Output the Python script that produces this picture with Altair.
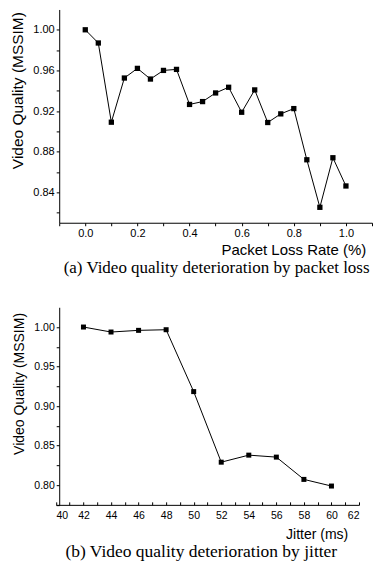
import altair as alt
import pandas as pd

# ---- data ----
loss_rate = [0.00, 0.05, 0.10, 0.15, 0.20, 0.25, 0.30, 0.35, 0.40, 0.45, 0.50,
             0.55, 0.60, 0.65, 0.70, 0.75, 0.80, 0.85, 0.90, 0.95, 1.00]
quality_loss = [1.000, 0.987, 0.909, 0.9525, 0.962, 0.9515, 0.960, 0.961, 0.9265, 0.9293, 0.9378,
                0.9434, 0.9188, 0.9408, 0.9087, 0.9172, 0.9224, 0.872, 0.8252, 0.874, 0.8462]

jitter_ms = [42, 44, 46, 48, 50, 52, 54, 56, 58, 60]
quality_jitter = [1.000, 0.9937, 0.9958, 0.9966, 0.9183, 0.829, 0.8379, 0.8354, 0.8072, 0.7988]

a_x_ticks = [-0.1, 0.0, 0.1, 0.2, 0.3, 0.4, 0.5, 0.6, 0.7, 0.8, 0.9, 1.0, 1.1]
a_y_ticks = [0.82, 0.84, 0.86, 0.88, 0.90, 0.92, 0.94, 0.96, 0.98, 1.00]
b_x_ticks = list(range(40, 63))
b_y_ticks = [0.775, 0.80, 0.825, 0.85, 0.875, 0.90, 0.925, 0.95, 0.975, 1.00]

df_a = pd.DataFrame({"rate": loss_rate, "q": quality_loss})
df_b = pd.DataFrame({"jitter": jitter_ms, "q": quality_jitter})

SANS = "Liberation Sans"
SERIF = "Liberation Serif"

common_axis = dict(domainColor="black", tickColor="black", labelColor="black",
                   titleColor="black", labelFont=SANS, titleFont=SANS,
                   titleFontWeight="normal", grid=False, domainWidth=1, tickWidth=1)

# ---- panel (a) ----
xa = alt.X("rate:Q",
           scale=alt.Scale(domain=[-0.1, 1.1], nice=False, zero=False),
           axis=alt.Axis(title="Packet Loss Rate (%)", values=a_x_ticks, format=".1f",
                         labelExpr="(abs(round(datum.value*10)) % 2 == 0 && datum.value > -0.05 && datum.value < 1.05) ? datum.label : ''",
                         tickSize=3, labelFontSize=11, labelPadding=2, titleFontSize=15,
                         titleAlign="right", titleBaseline="middle", titleX=306.7, titleY=26.3,
                         **common_axis))
ya = alt.Y("q:Q",
           scale=alt.Scale(domain=[0.81, 1.02], nice=False, zero=False),
           axis=alt.Axis(title="Video Quality (MSSIM)", values=a_y_ticks, format=".2f",
                         labelExpr="round(datum.value*100) % 4 == 0 ? datum.label : ''",
                         tickSize=3, labelFontSize=11, labelPadding=2, titleFontSize=15.5,
                         titleX=-41.3, titleY=80.7, titleBaseline="middle",
                         **common_axis))

base_a = alt.Chart(df_a).encode(x=xa, y=ya)
panel_a = alt.layer(
    base_a.mark_line(color="black", strokeWidth=1),
    base_a.mark_point(shape="square", filled=True, color="black", size=28, opacity=1),
).properties(
    width=313, height=213.4,
    title=alt.TitleParams(text="(a) Video quality deterioration by packet loss",
                          orient="bottom", font=SERIF, fontSize=17, fontWeight="normal",
                          color="black", anchor="middle", frame="group", dx=1, offset=3),
)

# ---- panel (b) ----
xb = alt.X("jitter:Q",
           scale=alt.Scale(domain=[40, 62], nice=False, zero=False, range=[-3.3, 300]),
           axis=alt.Axis(title="Jitter (ms)", values=b_x_ticks, format="d",
                         labelExpr="datum.value % 2 == 0 ? datum.label : ''",
                         tickSize={"expr": "-3"}, labelFontSize=10.5, labelPadding=9,
                         titleFontSize=14, titleAlign="right", titleBaseline="middle",
                         titleX=288.7, titleY=30,
                         **common_axis))
yb = alt.Y("q:Q",
           scale=alt.Scale(domain=[0.775, 1.025], nice=False, zero=False),
           axis=alt.Axis(title="Video Quality (MSSIM)", values=b_y_ticks, format=".2f",
                         labelExpr="round(datum.value*1000) % 50 == 0 ? datum.label : ''",
                         tickSize=3, labelFontSize=10.5, labelPadding=2, titleFontSize=14,
                         titleX=-39.3, titleY=76.2, titleBaseline="middle",
                         **common_axis))

base_b = alt.Chart(df_b).encode(x=xb, y=yb)
panel_b = alt.layer(
    base_b.mark_line(color="black", strokeWidth=1),
    base_b.mark_point(shape="square", filled=True, color="black", size=25, opacity=1),
).properties(
    width=300, height=197.7,
    title=alt.TitleParams(text="(b) Video quality deterioration by jitter",
                          orient="bottom", font=SERIF, fontSize=17.5, fontWeight="normal",
                          color="black", anchor="middle", frame="group", dx=-7.8, offset=1.5),
)

chart = alt.vconcat(panel_a, panel_b, spacing=31).properties(
    padding={"left": 10.25, "top": 9.3, "right": 0, "bottom": 0},
    background="white",
).configure_view(stroke=None)

chart.save("out.html", embed_options={"renderer": "svg", "actions": False})
